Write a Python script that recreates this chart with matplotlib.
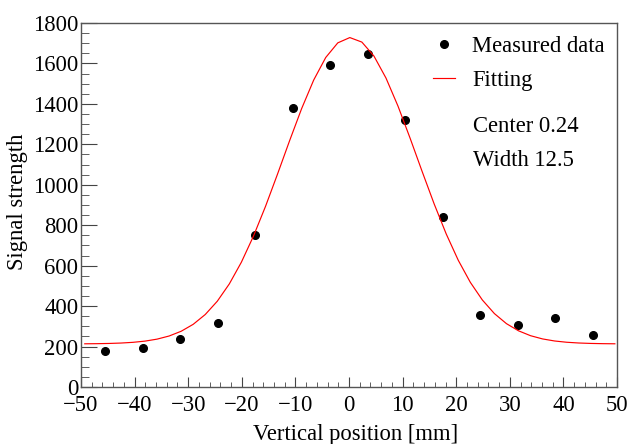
import numpy as np
import matplotlib
matplotlib.use('Agg')
import matplotlib.pyplot as plt
from matplotlib.ticker import MultipleLocator

plt.rcParams['font.family'] = ['Liberation Serif', 'DejaVu Serif']

# measured points
position = [-45.5, -38.5, -31.5, -24.5, -17.5, -10.5, -3.5, 3.5, 10.5, 17.5, 24.5, 31.5, 38.5, 45.5]
signal = [180, 193, 235, 317, 754, 1380, 1592, 1647, 1318, 839, 356, 308, 339, 255]

# gaussian fit parameters (center / width as printed on the plot)
fit_center = 0.24
fit_width = 12.5
fit_amp = 1515
fit_base = 213

fs = 16.3

fig = plt.figure(figsize=(6.3, 4.44), dpi=100)
ax = fig.add_axes([0.1286, 0.1284, 0.8508, 0.8198])

xf = np.linspace(-49.3, 49.6, 45)
yf = fit_base + fit_amp * np.exp(-(xf - fit_center) ** 2 / (2 * fit_width ** 2))

ax.plot(position, signal, 'o', color='black', ms=5.5, label='Measured data')
ax.plot(xf, yf, color='red', lw=0.85, label='Fitting')

ax.set_xlim(-50, 50)
ax.set_ylim(0, 1800)
ax.xaxis.set_major_locator(MultipleLocator(10))
ax.xaxis.set_minor_locator(MultipleLocator(2))
ax.yaxis.set_major_locator(MultipleLocator(200))
ax.yaxis.set_minor_locator(MultipleLocator(50))

ax.tick_params(axis='both', which='both', direction='in', labelsize=fs, colors='#444444', labelcolor='black')
ax.tick_params(axis='x', which='major', length=7, pad=5.5)
ax.tick_params(axis='x', which='minor', length=3.6)
ax.tick_params(axis='y', which='major', length=11.5, pad=2)
ax.tick_params(axis='y', which='minor', length=5.8)
for s in ax.spines.values():
    s.set_color('#555555')
    s.set_linewidth(1.0)

ax.set_xlabel('Vertical position [mm]', fontsize=fs)
ax.set_ylabel('Signal strength', fontsize=fs)
ax.xaxis.set_label_coords(0.513, -0.102)
ax.yaxis.set_label_coords(-0.099, 0.508)

ax.legend(loc='upper left', bbox_to_anchor=(0.618, 1.021), frameon=False, fontsize=fs,
          handlelength=1.0, handletextpad=0.75, labelspacing=0.57)
ax.text(0.732, 0.7005, 'Center 0.24', transform=ax.transAxes, fontsize=fs, va='baseline')
ax.text(0.732, 0.606, 'Width 12.5', transform=ax.transAxes, fontsize=fs, va='baseline')

fig.savefig('out.png', dpi=100)
